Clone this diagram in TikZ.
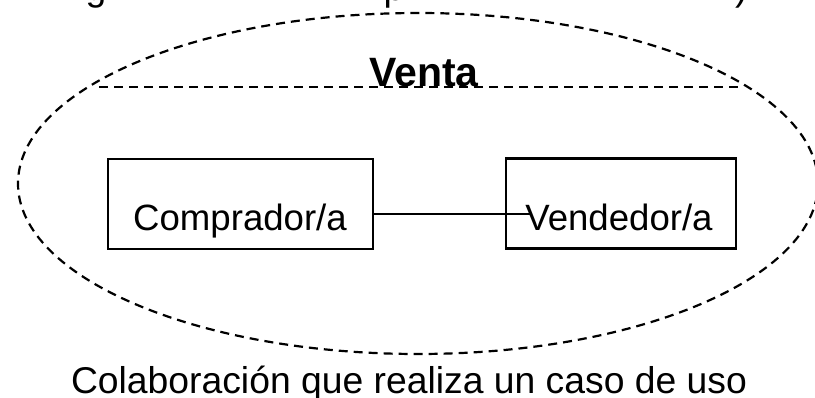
\documentclass[tikz,border=0pt]{standalone}
\usepackage{fontspec}
\setmainfont{Liberation Sans}
\usetikzlibrary{shapes.geometric}
\begin{document}
\begin{tikzpicture}[x=1pt,y=-1pt,
  stroke/.style={line width=2.2pt},
  dashline/.style={line width=2.2pt, dash pattern=on 9pt off 6pt},
  classbox/.style={draw, stroke, inner sep=0pt, minimum height=90pt},
  lbl/.style={font=\fontsize{36.6}{40}\selectfont, inner sep=0pt, anchor=base},
  ttl/.style={font=\fontsize{37.3}{40}\selectfont, inner sep=0pt, anchor=base west}]
\useasboundingbox (0,0) rectangle (815,398);
\clip (0,0) rectangle (815,398);
% cut-off title fragments
\node[ttl] (tg) at (85.5,1) {g};
\node[ttl] (tp) at (383.5,1) {p};
\node[ttl] (tpar) at (735,1) {)};
% collaboration ellipse
\node[ellipse, draw, dashline, inner sep=0pt, minimum width=800pt, minimum height=341pt] (venta) at (418,183.5) {};
\coordinate (sepL) at (99,87);
\coordinate (sepR) at (742,87);
\draw[dashline] (sepL) -- (sepR);
\node[font=\bfseries\fontsize{41}{44}\selectfont, inner sep=0pt, anchor=base] (vname) at (424,87) {Venta};
% classifier roles
\node[classbox, minimum width=265pt] (comp) at (240.5,204) {};
\node[classbox, minimum width=230pt] (vend) at (621,203.5) {};
\node[lbl] (tcomp) at (240,231) {Comprador/a};
\node[lbl] (tvend) at (619,231) {Vendedor/a};
\coordinate (lineend) at (532,214);
\draw[stroke] (comp.east |- lineend) -- (lineend);
% caption
\node[lbl, font=\fontsize{37.3}{40}\selectfont] (cap) at (409,394) {Colaboración que realiza un caso de uso};
\end{tikzpicture}
\end{document}
